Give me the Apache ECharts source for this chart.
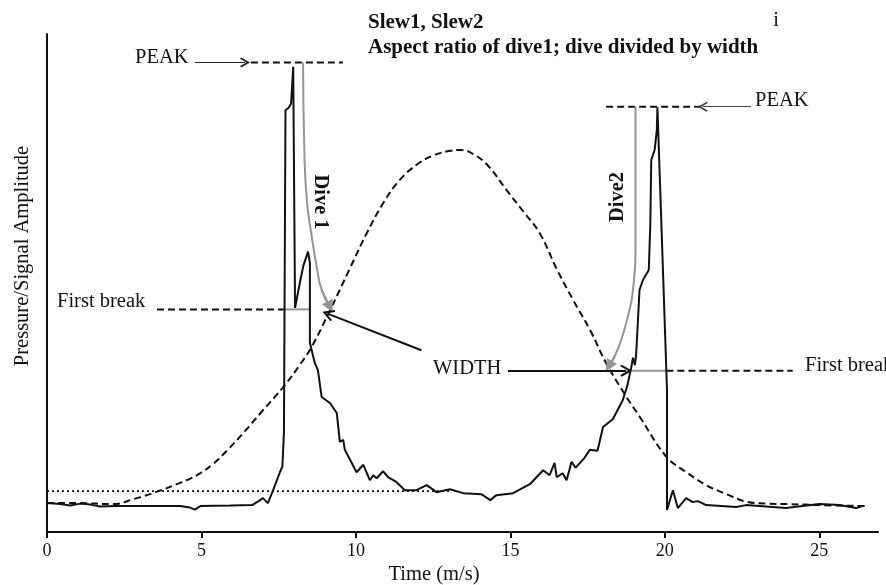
<!DOCTYPE html>
<html><head><meta charset="utf-8">
<script src="https://cdn.jsdelivr.net/npm/echarts@6/dist/echarts.min.js"></script>
<style>html,body{margin:0;padding:0;background:#fff}#c{width:886px;height:585px}</style>
</head><body><div id="c"></div>
<script>
// ---------- data (x = time, y = relative amplitude 0..100) ----------
const xTicks = [0, 5, 10, 15, 20, 25];
const signal = [[0,5.8],[0.43,5.6],[0.75,5.3],[1.08,5.7],[1.4,5.5],[1.72,5.1],[2.21,5.2],[3.34,5.2],[4.31,5.2],[4.63,4.9],[4.79,4.5],[4.96,5.2],[5.93,5.3],[6.64,5.4],[6.85,6.2],[6.99,6.8],[7.15,5.8],[7.32,8.4],[7.54,12.0],[7.62,13.2],[7.67,20],[7.72,84.7],[7.82,85.2],[7.90,86.0],[7.97,93.4],[8.03,45.0],[8.08,44.6],[8.20,50.5],[8.30,53.5],[8.38,55.0],[8.45,56.3],[8.51,54.0],[8.51,38.0],[8.67,33.9],[8.77,32.5],[8.89,27.1],[9.16,25.9],[9.38,23.9],[9.48,18.1],[9.59,18.5],[9.64,16.5],[9.81,14.5],[10.02,12.0],[10.24,13.5],[10.45,10.4],[10.56,11.4],[10.67,10.8],[10.88,12.2],[11.04,11.0],[11.32,10.0],[11.58,8.4],[11.96,8.4],[12.29,9.4],[12.61,8.0],[13.04,8.6],[13.47,7.8],[14.06,7.6],[14.35,6.4],[14.55,7.4],[15.09,7.8],[15.63,9.6],[16.06,12.4],[16.27,11.4],[16.43,13.9],[16.50,11.0],[16.69,11.8],[16.82,10.4],[16.98,14.1],[17.11,12.9],[17.40,14.9],[17.57,16.5],[17.82,16.3],[18.00,21.1],[18.32,22.7],[18.64,26.5],[18.79,29.5],[18.91,33.0],[18.97,35.0],[19.03,33.5],[19.07,35.5],[19.18,48.6],[19.29,50.6],[19.48,52.6],[19.53,62.0],[19.56,74.7],[19.67,76.7],[19.74,80.7],[19.76,85.3],[20.07,28.5],[20.07,4.4],[20.26,8.4],[20.42,4.8],[20.69,6.8],[20.90,6.0],[21.07,6.2],[21.34,5.4],[22.31,5.0],[22.63,5.4],[23.92,4.8],[25.0,5.6],[25.65,5.4],[26.19,4.8],[26.39,5.2]];
const envelope = [[0,5.8],[1.0,5.8],[2.15,5.6],[2.8,6.6],[3.56,8.1],[4.2,9.6],[4.85,11.4],[5.4,13.8],[5.85,16.5],[6.4,20.2],[6.9,23.8],[7.7,29.5],[8.2,33.7],[8.57,37.2],[9.16,44.5],[9.81,53.0],[10.35,60.0],[10.9,66.2],[11.42,70.7],[12.0,73.9],[12.5,75.6],[13.0,76.5],[13.4,76.7],[13.8,75.9],[14.3,73.4],[14.87,68.7],[15.4,64.5],[15.95,60.0],[16.5,52.8],[17.03,46.6],[17.6,40.3],[18.1,33.9],[18.75,27.2],[19.18,23.2],[20.05,15.1],[20.7,12.0],[21.34,9.4],[22.0,7.6],[22.63,6.1],[23.3,5.7],[24.03,5.6],[25.0,5.4],[26.56,5.2]];
const threshold = [[0,8.2],[13.1,8.2]];
const peak1Level = [[6.6,94.3],[9.58,94.3]];
const peak2Level = [[18.1,85.4],[21.2,85.4]];
const firstBreak1Dashed = [[3.56,44.7],[7.7,44.7]];
const firstBreak1Grey = [[7.7,44.7],[8.51,44.7]];
const firstBreak2Grey = [[18.91,32.4],[20.05,32.4]];
const firstBreak2Dashed = [[20.05,32.4],[24.14,32.4]];
const dive1Curve = [[8.29,94.3],[8.33,76.7],[8.41,66.7],[8.57,59.3],[8.73,53.3],[8.89,48.6],[9.16,45.2]];
const dive2Curve = [[19.05,85.4],[19.05,58.6],[18.97,48.6],[18.80,43.2],[18.59,38.6],[18.37,35.2],[18.19,33.3]];
const peakArrow1 = [[4.79,94.3],[6.41,94.3]];
const peakArrow2 = [[22.79,85.4],[21.23,85.4]];
const widthArrow1 = [[12.12,36.5],[9.10,43.8]];
const widthArrow2 = [[14.92,32.4],[18.75,32.4]];

// ---------- chart ----------
const chart = echarts.init(document.getElementById('c'), null, {renderer: 'canvas'});
const SERIF = '"Liberation Serif", "DejaVu Serif", serif';
const GREY = '#959595';
const chevron = 'path://M5,0L10,8.6L8.7,9.8L5,3.4L1.3,9.8L0,8.6Z';

function plain(data, color, width, type, z, smooth) {
  return {type: 'line', data, showSymbol: false, symbol: 'none', smooth: smooth || false,
    lineStyle: {color, width, type: type || 'solid'}, z: z || 2, silent: true, animation: false};
}
function arrow(pts, color, width, head, size, z) {
  return {type: 'lines', coordinateSystem: 'cartesian2d', polyline: false, silent: true, animation: false,
    symbol: ['none', head], symbolSize: size, z: z || 3,
    lineStyle: {color, width, opacity: 1, curveness: 0},
    data: [{coords: pts}]};
}
function txt(text, x, y, opts) {
  opts = opts || {};
  return {type: 'text', x, y, rotation: opts.rot || 0, z: 10, silent: true,
    style: {text, fill: opts.color || '#111', font: (opts.weight || 'normal') + ' ' + (opts.size || 20.5) + 'px ' + SERIF,
      textAlign: opts.align || 'left', align: opts.align || 'left',
      textVerticalAlign: 'middle', verticalAlign: 'middle'}};
}

const option = {
  animation: false,
  backgroundColor: '#fff',
  grid: {left: 47, right: 8, top: 34, bottom: 53, containLabel: false},
  xAxis: {type: 'value', min: 0, max: 26.9, interval: 5,
    axisLine: {show: true, lineStyle: {color: '#111', width: 2}},
    axisTick: {show: true, length: 6, lineStyle: {color: '#111', width: 2}, customValues: xTicks},
    axisLabel: {show: true, customValues: xTicks, color: '#111', fontFamily: SERIF, fontSize: 18, margin: 10},
    splitLine: {show: false}},
  yAxis: {type: 'value', min: 0, max: 100,
    axisLine: {show: true, lineStyle: {color: '#111', width: 2}},
    axisTick: {show: false}, axisLabel: {show: false}, splitLine: {show: false}},
  series: [
    plain(threshold, '#111', 1.6, [2, 3], 1),
    plain(envelope, '#111', 2, [7, 4], 2, 0.4),
    plain(peak1Level, '#111', 2, [7, 4], 2),
    plain(peak2Level, '#111', 2, [7, 4], 2),
    plain(firstBreak1Dashed, '#111', 2, [7, 4], 2),
    plain(firstBreak2Dashed, '#111', 2, [7, 4], 2),
    plain(firstBreak1Grey, GREY, 2, 'solid', 2),
    plain(firstBreak2Grey, GREY, 2, 'solid', 2),
    plain(dive1Curve, GREY, 2, 'solid', 3, 0.5),
    plain(dive2Curve, GREY, 2, 'solid', 3, 0.5),
    arrow(dive1Curve.slice(-2), GREY, 2, 'triangle', [10, 12], 3),
    arrow(dive2Curve.slice(-2), GREY, 2, 'triangle', [10, 12], 3),
    plain(signal, '#111', 2, 'solid', 4),
    arrow(peakArrow1, '#222', 1.2, chevron, [10, 10], 5),
    arrow(peakArrow2, '#444', 1.2, chevron, [10, 10], 5),
    arrow(widthArrow1, '#111', 2, chevron, [13, 12], 5),
    arrow(widthArrow2, '#111', 2, chevron, [13, 12], 5)
  ],
  graphic: {elements: [
    txt('Slew1, Slew2', 368, 23, {weight: 'bold', size: 21}),
    txt('Aspect ratio of dive1; dive divided by width', 368, 48, {weight: 'bold', size: 21}),
    txt('i', 776, 21, {align: 'center'}),
    txt('PEAK', 135, 58, {}),
    txt('PEAK', 755, 101, {}),
    txt('First break', 57, 302, {}),
    txt('First break', 805, 366, {}),
    txt('WIDTH', 433, 369, {}),
    txt('Dive 1', 320, 202, {weight: 'bold', rot: -Math.PI / 2, align: 'center'}),
    txt('Dive2', 618, 197, {weight: 'bold', rot: Math.PI / 2, align: 'center'}),
    txt('Time (m/s)', 434, 575, {align: 'center'}),
    txt('Pressure/Signal Amplitude', 23, 256, {rot: Math.PI / 2, align: 'center'})
  ]}
};
chart.setOption(option);
</script></body></html>
